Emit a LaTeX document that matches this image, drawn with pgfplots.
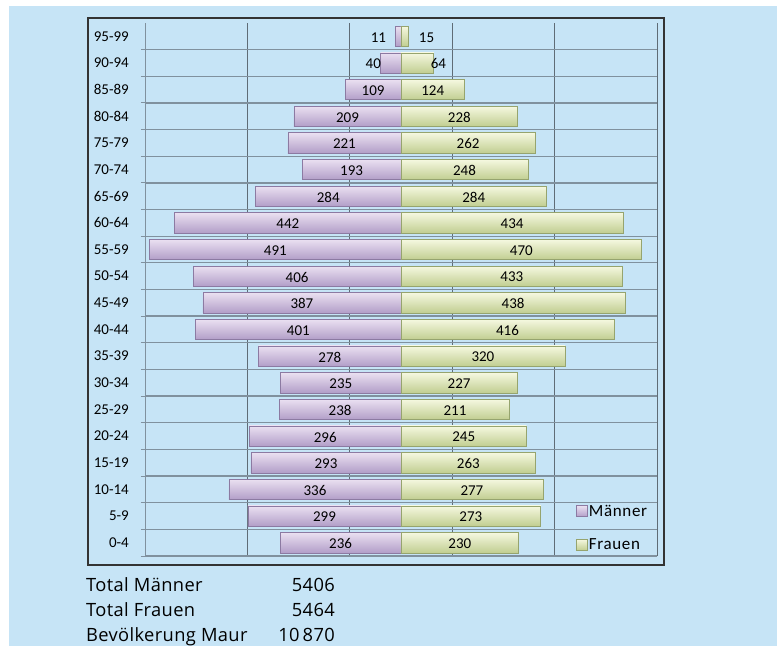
\documentclass[border=0pt]{standalone}
\usepackage{pgfplots}
\usepackage{pgfplotstable}
\pgfplotsset{compat=1.18}
\usepackage{fontspec}
\setmainfont{Carlito}
\newfontfamily\sumfont[LetterSpace=2]{Open Sans}
\newfontfamily\legfont[LetterSpace=4]{Carlito}
\definecolor{bgblue}{RGB}{198,228,246}
\definecolor{pLight}{RGB}{234,224,241}
\definecolor{pMid}{RGB}{199,181,219}
\definecolor{pDark}{RGB}{178,158,200}
\definecolor{pEdge}{RGB}{140,122,162}
\definecolor{gLight}{RGB}{245,248,224}
\definecolor{gMid}{RGB}{220,231,178}
\definecolor{gDark}{RGB}{193,206,145}
\definecolor{gEdge}{RGB}{150,164,110}
\definecolor{hgrid}{RGB}{128,145,158}
\definecolor{vgrid}{RGB}{95,108,118}
\pgfplotsset{
  sqlegend/.style={legend image code/.code={\draw[##1] (0pt,-5.5pt) rectangle (11pt,5.5pt);}},
  mbar/.style={xbar, bar width=0.76, bar shift=0pt, draw=pEdge, line width=0.6pt,
    top color=pLight, middle color=pMid, bottom color=pDark},
  fbar/.style={xbar, bar width=0.76, bar shift=0pt, draw=gEdge, line width=0.6pt,
    top color=gLight, middle color=gMid, bottom color=gDark},
}

\pgfplotstableread{
y m f
0 236 230
1 299 273
2 336 277
3 293 263
4 296 245
5 238 211
6 235 227
7 278 320
8 401 416
9 387 438
10 406 433
11 491 470
12 442 434
13 284 284
14 193 248
15 221 262
16 209 228
17 109 124
18 40 64
19 11 15
}\pop

\pgfplotstableread{
y x lab
0 -118 236
1 -149.5 299
2 -168 336
3 -146.5 293
4 -148 296
5 -119 238
6 -117.5 235
7 -139 278
8 -200.5 401
9 -193.5 387
10 -203 406
11 -245.5 491
12 -221 442
13 -142 284
14 -96.5 193
15 -110.5 221
16 -104.5 209
17 -54.5 109
18 -54 40
19 -44 11
}\mlab

\pgfplotstableread{
y x lab
0 115 230
1 136.5 273
2 138.5 277
3 131.5 263
4 122.5 245
5 105.5 211
6 113.5 227
7 160 320
8 208 416
9 219 438
10 216.5 433
11 235 470
12 217 434
13 142 284
14 124 248
15 131 262
16 114 228
17 62 124
18 73 64
19 50 15
}\flab

\begin{document}
\begin{tikzpicture}[x=1pt,y=1pt]
\useasboundingbox (0,0) rectangle (777,646);
\fill[white] (0,0) rectangle (777,646);
\fill[bgblue] (9,0) rectangle (777,640);
\draw[line width=1.2pt, black!80] (88,81) rectangle (664,628);
\begin{axis}[
  at={(145pt,90pt)}, anchor=south west,
  scale only axis, width=512pt, height=533pt,
  xmin=-500, xmax=500, ymin=-0.5, ymax=19.5,
  axis line style={draw=none},
  xtick={-500,-300,-100,100,300,500}, xticklabels={},
  xtick style={draw=none},
  xmajorgrids, x grid style={vgrid, line width=0.8pt},
  ytick={-0.5,0.5,...,18.5}, yticklabels={},
  ytick pos=left, tick align=outside, major tick length=4pt,
  ytick style={hgrid, line width=1pt},
  ymajorgrids, y grid style={hgrid, line width=1.3pt},
  extra y ticks={0,1,...,19},
  extra y tick labels={{0-4},{5-9},{10-14},{15-19},{20-24},{25-29},{30-34},{35-39},{40-44},{45-49},{50-54},{55-59},{60-64},{65-69},{70-74},{75-79},{80-84},{85-89},{90-94},{95-99}},
  extra y tick style={grid=none, major tick length=0pt, tick style={draw=none},
    yticklabel style={anchor=east, inner sep=0pt, xshift=-16pt, font=\fontsize{15}{18}\selectfont}},
  legend style={at={(axis description cs:0.836,0.102)}, anchor=north west, draw=none, fill=none,
    font=\legfont\fontsize{17}{19}\selectfont, row sep=19pt, nodes={inner sep=1pt}},
  legend cell align=left,
  every node near coord/.style={anchor=center, inner sep=0pt, yshift=-1pt, font=\fontsize{15}{17}\selectfont, black},
]
\pgfplotsinvokeforeach{0,...,19}{
  \addplot[mbar, forget plot, restrict y to domain=#1:#1]
    table[x expr=-\thisrow{m}, y=y] {\pop};
  \addplot[fbar, forget plot, restrict y to domain=#1:#1]
    table[x=f, y=y] {\pop};
}
\addlegendimage{mbar, sqlegend}
\addlegendentry{Männer}
\addlegendimage{fbar, sqlegend}
\addlegendentry{Frauen}
\addplot[forget plot, draw=none, mark=none, nodes near coords, point meta=explicit symbolic]
  table[x=x, y=y, meta=lab] {\mlab};
\addplot[forget plot, draw=none, mark=none, nodes near coords, point meta=explicit symbolic]
  table[x=x, y=y, meta=lab] {\flab};
\draw[hgrid, line width=1.2pt] (axis cs:-500,-0.5) -- (axis cs:-500,19.5);
\end{axis}
\begin{scope}[every node/.style={inner sep=0pt, font=\sumfont\fontsize{18.3}{20}\selectfont}]
\node[anchor=base west] at (86,54.3) {Total Männer};
\node[anchor=base east] at (335,54.3) {5406};
\node[anchor=base west] at (86,29.3) {Total Frauen};
\node[anchor=base east] at (335,29.3) {5464};
\node[anchor=base west] at (86,4.3) {Bevölkerung Maur};
\node[anchor=base east] at (335,4.3) {10\,870};
\end{scope}
\end{tikzpicture}
\end{document}
